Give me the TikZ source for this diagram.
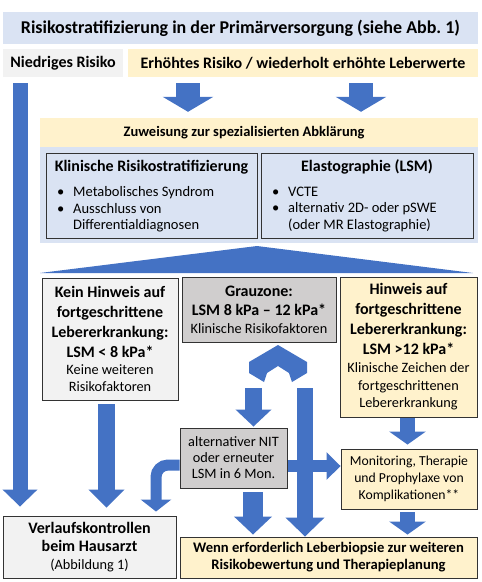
\documentclass[tikz,border=0pt]{standalone}
\usepackage{fontspec}
\setmainfont{Carlito}
\usetikzlibrary{arrows.meta}

\definecolor{arrowblue}{HTML}{4472C4}
\definecolor{titleblue}{HTML}{DAE3F3}
\definecolor{paleyellow}{HTML}{FFF2CC}
\definecolor{palegray}{HTML}{F2F2F2}
\definecolor{midgray}{HTML}{D0CECE}

\newcommand{\bft}{\fontsize{16}{20}\selectfont\bfseries}
\newcommand{\rmt}{\fontsize{14.3}{17}\selectfont\mdseries}
\newcommand{\bul}{\makebox[16pt][l]{\textbullet}}
\newcommand{\nobul}{\hspace*{16pt}}

\begin{document}
\begin{tikzpicture}[x=1pt,y=-1pt,
    band/.style={inner sep=0pt, align=center, font=\bft},
    box/.style={draw=black!80, line width=0.9pt, inner sep=0pt, align=center, font=\bft},
    list/.style={inner sep=0pt, align=left, font=\fontsize{14.5}{16.5}\selectfont},
    blk/.style n args={3}{arrowblue, line width=#1, -{Triangle[width=#2, length=#3]}}
  ]
  \useasboundingbox (0,0) rectangle (482,582);

  % header rows
  \node[band, fill=titleblue, minimum width=475pt, minimum height=32pt, font=\fontsize{18}{22}\selectfont\bfseries] (title) at (240.5,28) {Risikostratifizierung in der Primärversorgung (siehe Abb.~1)};
  \node[band, fill=palegray, minimum width=120pt, minimum height=28pt] (low) at (63,63) {Niedriges Risiko};
  \node[band, fill=paleyellow, minimum width=350pt, minimum height=28pt] (high) at (303,63) {Erhöhtes Risiko / wiederholt erhöhte Leberwerte};
  \node[band, fill=paleyellow, minimum width=438pt, minimum height=29pt] (refer) at (259,132.5) {};
  \node[band, font=\fontsize{14.5}{18}\selectfont\bfseries] (refertext) at (244,133) {Zuweisung zur spezialisierten Abklärung};

  % specialist work-up
  \node[band, fill=titleblue, minimum width=438pt, minimum height=96pt] (panel) at (259,195) {};
  \node[box, fill=titleblue, minimum width=211pt, minimum height=85pt] (clin) at (151.5,195.5) {};
  \node[box, fill=titleblue, minimum width=212pt, minimum height=85pt] (elast) at (367,195.5) {};
  \node[band] (clinhead) at (151.5,167) {Klinische Risikostratifizierung};
  \node[band] (elasthead) at (367,167) {Elastographie (LSM)};
  \node[list, anchor=north west] (clinlist) at (57,186.5) {\bul Metabolisches Syndrom\\ \bul Ausschluss von\\ \nobul Differentialdiagnosen};
  \node[list, anchor=north west] (elastlist) at (272,186.5) {\bul VCTE\\ \bul alternativ 2D- oder pSWE\\ \nobul (oder MR Elastographie)};
  \fill[arrowblue] (257,246) -- (473,273) -- (40,273) -- cycle;

  % outcome boxes
  \node[box, fill=palegray, minimum width=136pt, minimum height=122pt] (noadv) at (110,339) {Kein Hinweis auf\\ fortgeschrittene\\ Lebererkrankung:\\ LSM < 8 kPa*\\[-3pt] \rmt Keine weiteren\\[-3pt] \rmt Risikofaktoren};
  \node[box, fill=midgray, minimum width=154pt, minimum height=65pt] (grey) at (259,309.5) {Grauzone:\\[-1pt] LSM 8 kPa – 12 kPa*\\[-2pt] \rmt Klinische Risikofaktoren};
  \node[box, fill=paleyellow, minimum width=137pt, minimum height=140pt] (adv) at (408.5,347) {Hinweis auf\\ fortgeschrittene\\ Lebererkrankung:\\ LSM >12 kPa*\\[-2.3pt] \rmt Klinische Zeichen der\\[-2.3pt] \rmt fortgeschrittenen\\[-2.3pt] \rmt Lebererkrankung};
  \node[box, fill=midgray, minimum width=107pt, minimum height=60pt, font=\rmt] (nit) at (233.5,458) {alternativer NIT\\[-1pt] oder erneuter\\[-1pt] LSM in 6 Mon.};
  \node[box, fill=paleyellow, minimum width=136pt, minimum height=60pt, font=\fontsize{13.7}{17}\selectfont] (monit) at (409,479) {Monitoring, Therapie\\ und Prophylaxe von\\ Komplikationen**};
  \node[box, fill=palegray, minimum width=173pt, minimum height=62pt] (gp) at (89.5,547) {Verlaufskontrollen\\[-2pt] beim Hausarzt\\[-2pt] \rmt (Abbildung 1)};
  \node[box, fill=paleyellow, minimum width=297pt, minimum height=41pt, font=\fontsize{14.6}{17}\selectfont\bfseries] (biopsy) at (328.5,557.5) {Wenn erforderlich Leberbiopsie zur weiteren\\ Risikobewertung und Therapieplanung};

  % block arrows
  \draw[blk={24pt}{50pt}{15pt}, shorten <=6pt, shorten >=6pt] (188,0 |- high.south) -- (188,0 |- refer.north);
  \draw[blk={24pt}{50pt}{15pt}, shorten <=6pt, shorten >=6pt] (361,0 |- high.south) -- (361,0 |- refer.north);
  \draw[blk={15pt}{34pt}{17pt}, shorten <=6pt, shorten >=9pt] (20,0 |- low.south) -- (20,0 |- gp.north);
  \draw[blk={17pt}{35pt}{18pt}, shorten <=4pt, shorten >=8pt] (106.5,0 |- noadv.south) -- (106.5,0 |- gp.north);

  \fill[arrowblue] (278,345) -- (307,362) -- (307,373) -- (292,382) -- (289,373) -- (278,366)
    -- (267,373) -- (264,382) -- (249,373) -- (249,362) -- cycle;
  \coordinate (splitL) at (253.5,388);
  \coordinate (splitR) at (305,388);
  \draw[blk={17pt}{35pt}{17pt}, shorten >=1pt] (splitL) -- (splitL |- nit.north);
  \draw[blk={12pt}{27pt}{14pt}, shorten <=1pt] (nit.east |- 0,466) -- (monit.west |- 0,466);
  \draw[blk={16pt}{38pt}{19pt}] (splitR) -- (splitR |- biopsy.north);
  \draw[blk={20pt}{37pt}{18pt}, shorten <=4pt, shorten >=2pt] (253,0 |- nit.south) -- (253,0 |- biopsy.north);
  \draw[blk={11pt}{30pt}{12pt}, rounded corners=12pt, shorten >=4pt] (nit.west |- 0,465) -| (156,0 |- gp.north);
  \draw[blk={15pt}{36pt}{13pt}, shorten <=1pt, shorten >=4pt] (407.5,0 |- adv.south) -- (407.5,0 |- monit.north);
  \draw[blk={15pt}{36pt}{13pt}, shorten <=3pt, shorten >=2pt] (407.5,0 |- monit.south) -- (407.5,0 |- biopsy.north);
\end{tikzpicture}
\end{document}
